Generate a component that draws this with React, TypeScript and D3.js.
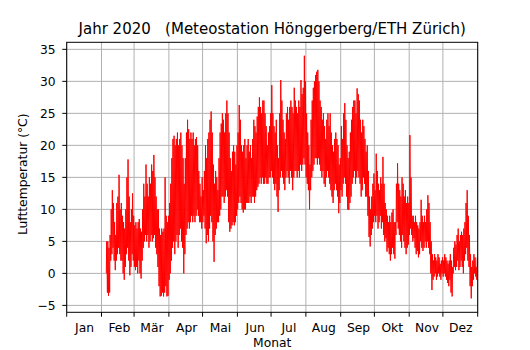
import * as d3 from 'd3';

// Title and axis texts
const TITLE = 'Jahr 2020   (Meteostation Hönggerberg/ETH Zürich)';
const X_LABEL = 'Monat';
const Y_LABEL = 'Lufttemperatur (°C)';
const MONTH_NAMES = ['Jan', 'Feb', 'Mär', 'Apr', 'Mai', 'Jun', 'Jul', 'Aug', 'Sep', 'Okt', 'Nov', 'Dez'];
const Y_TICKS = [-5, 0, 5, 10, 15, 20, 25, 30, 35];

// Series starts on 5 Feb 2020, one entry per day (daily low / daily high)
const FIRST_DAY = new Date(2020, 1, 5);

const dailyMin = [
  // Feb
  0, -3, -3.5, -3, 2, 3, 4, 2, 0.5, 2, 3, 4, 3, 2, 2, 0,
  -1, 1, 3, 4, 2, -0.3, 1, 3, 2,
  // Mar
  1, 0.5, 1, 0, 2, 0, -0.8,
  2, 4, 5, 6, 5, 6, 4, 5, 6, 5, 5.5, 6, 4, 3, 1, -2, -3.6, -3.5, -3, -3.6,
  -3, -2, -3.6, -3.5, -1,
  // Apr
  0, 2, 4, 5, 3, 5, 6, 4, 6, 7, 5, 4,
  0, 3, 6, 7, 8, 7, 8, 9, 8, 9, 8, 9, 10, 9, 8, 8, 7, 8,
  // May
  9, 7, 4.7, 6, 5, 7, 9, 8, 5, 1.8, 6, 7, 8, 8, 9, 10, 12, 12, 11, 12, 13, 12,
  8, 6.5, 7, 7.5, 8, 7.5, 8, 9, 10,
  // Jun
  11, 12, 11, 10, 9.5, 10, 10, 11, 11, 11, 12, 11, 12, 12, 11, 12, 13, 13.5,
  14, 15, 14, 15, 14, 14, 15, 14, 14, 15, 15, 16,
  // Jul
  15, 14, 13, 14, 12, 9.6, 13, 15, 16, 15, 14, 13, 15, 16, 15, 14, 16, 15,
  13, 15, 16, 16, 15, 16, 15, 17, 16, 17, 18, 17,
  // Aug
  15, 14, 13, 10, 13, 15, 16, 17, 18, 18, 17, 18, 17, 16, 15, 16, 14, 13.5,
  15, 16, 15, 14, 13, 12, 11, 13, 14, 13, 12, 9.4, 11,
  // Sep
  13, 12, 14, 15, 14, 12, 10, 9.9, 11, 12, 14, 15, 16, 14,
  15, 16, 15, 14, 12, 13, 15, 14, 12, 12, 9, 5.7, 4.2, 6, 7, 8,
  // Oct
  9, 8, 9, 7, 8, 9, 7, 8, 6, 5, 5.5, 3.4,
  4, 3, 2, 3, 4, 3, 2.3, 6, 8, 7, 6, 5, 4, 6, 5, 4, 3, 4, 4.5,
  // Nov
  6, 7, 6, 5, 5.5, 4, 3, 3.5, 2.5, 3,
  5, 4, 3.5, 4, 5, 4, 5, 4, 3, 0, -2.6, -1, -0.5, 0, -1, -0.5, 0, -0.5, -1, 0,
  // Dec
  -0.5, 0, -0.5, -1, -1.5, -2,
  -1, -3, -3.6, 0, 1, 0.5, 1, 2, 0.5, 1, 2, 1, 0, 2, 3, 4, 2, 1, -2, -3.9, -2, -1, 0, -0.5, -1,
];

const dailyMax = [
  // Feb
  5, 5, 4, 6, 10, 13, 11, 8, 6, 11, 12, 15.4, 10, 11, 9, 8,
  7, 10, 15, 17.8, 12, 8, 10, 12.5, 9,
  // Mar
  7.5, 8, 7, 8, 8.5, 7, 6.5,
  10, 14, 12, 17, 14, 12, 15, 14, 17, 16, 18.5, 15, 12, 10, 10, 7, 6, 7, 6.5, 7,
  15, 9, 8, 9, 11,
  // Apr
  14, 18, 21, 21.5, 20, 21, 22, 20, 21, 22, 20, 18,
  14, 18, 22, 24, 22.5, 21, 22, 21, 22, 20, 21, 21.3, 20, 16, 14, 12, 15, 13,
  // May
  16, 20, 18, 21, 22, 24, 25.3, 22, 17, 14, 16, 15, 13, 18, 22, 23.4, 25, 24, 22, 25, 27, 25,
  22, 18, 16, 19, 20, 19, 17, 20, 22,
  // Jun
  26.3, 24, 20, 19, 20, 21, 18, 20, 21, 19, 20, 18, 21, 24, 23, 22, 24.5, 26,
  27.5, 26, 25, 27, 27, 25, 23, 20, 22, 23, 25, 29.4,
  // Jul
  25, 23, 22, 24, 20, 18, 25, 30.2, 27, 24, 22, 21, 25, 26, 24, 26, 27, 26,
  25, 29, 27, 26, 25, 27, 26, 30.2, 28, 29, 34, 30,
  // Aug
  25, 22, 20, 17, 24, 27, 29, 30, 31, 31.5, 31.8, 30, 27, 26, 24, 25, 23, 21,
  24, 25, 23, 25, 22, 20, 19, 21, 22, 21, 20, 17, 18,
  // Sep
  23, 21, 25, 26.6, 24, 20, 18, 19, 22, 24, 26, 27, 27, 25,
  28.9, 28, 27, 24, 22, 24, 23, 21, 19, 20, 16, 12, 10, 12, 14, 15.6,
  // Oct
  13, 18.7, 16, 14, 13, 15, 14, 18.2, 14, 11, 10, 9,
  8, 9, 8, 9.5, 10, 8, 8, 14, 17.2, 14, 13, 12, 15, 14, 12, 13, 11, 12, 11,
  // Nov
  21.6, 15, 9, 9, 8, 9, 8, 7.5, 7, 8,
  11.5, 9, 8, 9, 8, 10, 12.2, 11, 8, 5, 3, 2, 3, 2.5, 2, 3, 2.5, 1.5, 2, 2.5,
  // Dec
  2, 3, 2.5, 2, 1.5, 2,
  3, 2, 1, 4, 5, 4.5, 6, 7, 5, 6, 6.5, 6, 7, 8, 11, 13, 9, 6, 3, 1, 2, 3, 2.5, 1, 2.5,
];

const width = 530;
const height = 350;
const plot = { left: 66.7, right: 477.7, top: 42.3, bottom: 312.3 };
const FONT = '"DejaVu Sans", sans-serif';

export default function App() {
  const x = d3
    .scaleTime()
    .domain([new Date(2020, 0, 1), new Date(2021, 0, 1)])
    .range([plot.left, plot.right]);
  const y = d3.scaleLinear().domain([-6.08, 36.1]).range([plot.bottom, plot.top]);

  // low in the early morning, high in the afternoon
  const points: [Date, number][] = [];
  dailyMin.forEach((lo, i) => {
    const day = d3.timeDay.offset(FIRST_DAY, i);
    points.push([d3.timeHour.offset(day, 6), lo]);
    points.push([d3.timeHour.offset(day, 15), dailyMax[i]]);
  });

  const line = d3
    .line<[Date, number]>()
    .x((d) => x(d[0]))
    .y((d) => y(d[1]));

  const monthStarts = d3.timeMonth.range(new Date(2020, 0, 1), new Date(2021, 0, 2));
  const monthMids = MONTH_NAMES.map((_, m) => new Date(2020, m, 16));

  return (
    <div style={{ position: 'fixed', left: 0, top: 0 }}>
      <svg width={width} height={height} style={{ display: 'block', background: '#fff' }} fontFamily={FONT}>
        <defs>
          <clipPath id="plot-clip">
            <rect x={plot.left} y={plot.top} width={plot.right - plot.left} height={plot.bottom - plot.top} />
          </clipPath>
        </defs>

        {/* grid */}
        <g stroke="#b0b0b0" strokeWidth={1}>
          {monthStarts.map((d, i) => (
            <line key={'gx' + i} x1={x(d)} x2={x(d)} y1={plot.top} y2={plot.bottom} />
          ))}
          {Y_TICKS.map((t) => (
            <line key={'gy' + t} x1={plot.left} x2={plot.right} y1={y(t)} y2={y(t)} />
          ))}
        </g>

        {/* temperature series */}
        <path
          d={line(points) ?? ''}
          fill="none"
          stroke="#ff0000"
          strokeWidth={1}
          clipPath="url(#plot-clip)"
        />

        {/* frame */}
        <rect
          x={plot.left}
          y={plot.top}
          width={plot.right - plot.left}
          height={plot.bottom - plot.top}
          fill="none"
          stroke="#000"
          strokeWidth={1}
        />

        {/* ticks */}
        <g stroke="#000" strokeWidth={1}>
          {monthStarts.map((d, i) => (
            <line key={'tx' + i} x1={x(d)} x2={x(d)} y1={plot.bottom} y2={plot.bottom + 4.4} />
          ))}
          {Y_TICKS.map((t) => (
            <line key={'ty' + t} x1={plot.left - 4.4} x2={plot.left} y1={y(t)} y2={y(t)} />
          ))}
        </g>

        <g fontSize={12.3} fill="#000">
          {monthMids.map((d, i) => (
            <text key={'mx' + i} x={x(d) + 1} y={331.5} textAnchor="middle">
              {MONTH_NAMES[i]}
            </text>
          ))}
          {Y_TICKS.map((t) => (
            <text key={'ly' + t} x={plot.left - 11} y={y(t)} dy="0.36em" textAnchor="end">
              {t < 0 ? '\u2212' + Math.abs(t) : t}
            </text>
          ))}
        </g>

        <text x={(plot.left + plot.right) / 2} y={346.5} textAnchor="middle" fontSize={12.3}>
          {X_LABEL}
        </text>
        <text
          transform={`translate(26.5, ${(plot.top + plot.bottom) / 2 - 3}) rotate(-90)`}
          textAnchor="middle"
          fontSize={12.3}
        >
          {Y_LABEL}
        </text>
        <text
          x={(plot.left + plot.right) / 2}
          y={33.5}
          textAnchor="middle"
          fontSize={15}
          style={{ whiteSpace: 'pre' }}
        >
          {TITLE}
        </text>
      </svg>
    </div>
  );
}
